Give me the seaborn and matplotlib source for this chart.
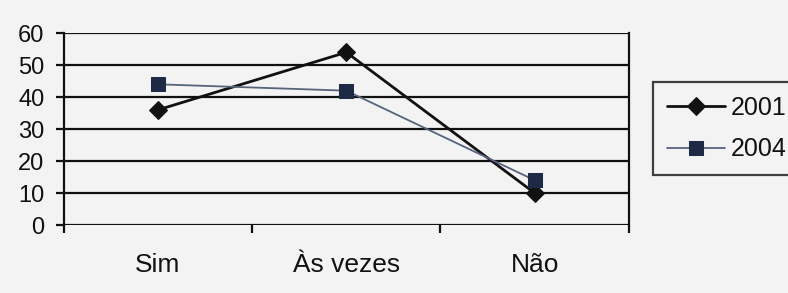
import pandas as pd
import seaborn as sns
import matplotlib.pyplot as plt
from matplotlib.ticker import FixedLocator

# --- data ---
categories = ["Sim", "Às vezes", "Não"]
values_2001 = [36, 54, 10]
values_2004 = [44, 42, 14]
series_names = ["2001", "2004"]

df01 = pd.DataFrame({"categoria": categories, "valor": values_2001})
df04 = pd.DataFrame({"categoria": categories, "valor": values_2004})

sns.set_theme(style="white")
plt.rcParams["font.family"] = ["Liberation Sans", "DejaVu Sans"]

BG = "#f3f3f3"
INK = "#111111"
fig = plt.figure(figsize=(7.88, 2.93), dpi=100, facecolor=BG)
ax = fig.add_axes([0.081, 0.232, 0.717, 0.655])
ax.set_facecolor(BG)

# horizontal grid lines behind the data
for v in range(0, 61, 10):
    ax.axhline(v, color=INK, lw=1.6, zorder=1)

# one call per series so each keeps its own look
sns.lineplot(data=df01, x="categoria", y="valor", sort=False, ax=ax,
             color=INK, lw=2.0, marker="D", markersize=9,
             markerfacecolor=INK, markeredgecolor=INK,
             label=series_names[0], zorder=3)
sns.lineplot(data=df04, x="categoria", y="valor", sort=False, ax=ax,
             color="#56647c", lw=1.3, marker="s", markersize=10,
             markerfacecolor="#1e2a45", markeredgecolor="#1e2a45",
             label=series_names[1], zorder=3)

ax.set_xlim(-0.5, 2.5)
ax.set_ylim(0, 60)
ax.set_yticks(range(0, 61, 10))
ax.set_xlabel("")
ax.set_ylabel("")

ax.tick_params(axis="y", labelsize=17, length=6, width=1.6, direction="out",
               left=True, color=INK, pad=8, labelcolor=INK)
ax.tick_params(axis="x", which="major", labelsize=19, length=0, pad=20,
               labelcolor=INK)
ax.xaxis.set_minor_locator(FixedLocator([-0.5, 0.5, 1.5, 2.5]))
ax.tick_params(axis="x", which="minor", length=6, width=1.6, direction="out",
               bottom=True, color=INK)

for side in ["left", "right"]:
    ax.spines[side].set_visible(True)
    ax.spines[side].set_color(INK)
    ax.spines[side].set_linewidth(1.6)
ax.spines["top"].set_visible(False)
ax.spines["bottom"].set_visible(False)

leg = ax.legend(
    loc="upper left",
    bbox_to_anchor=(0.829, 0.72), bbox_transform=fig.transFigure,
    borderaxespad=0, fontsize=18, frameon=True, fancybox=False,
    handlelength=2.3, handletextpad=0.25, borderpad=0.55, labelspacing=0.7,
    labelcolor=INK,
)
leg.get_frame().set_edgecolor(INK)
leg.get_frame().set_linewidth(1.6)
leg.get_frame().set_facecolor(BG)

fig.savefig("out.png", dpi=100, facecolor=BG)
